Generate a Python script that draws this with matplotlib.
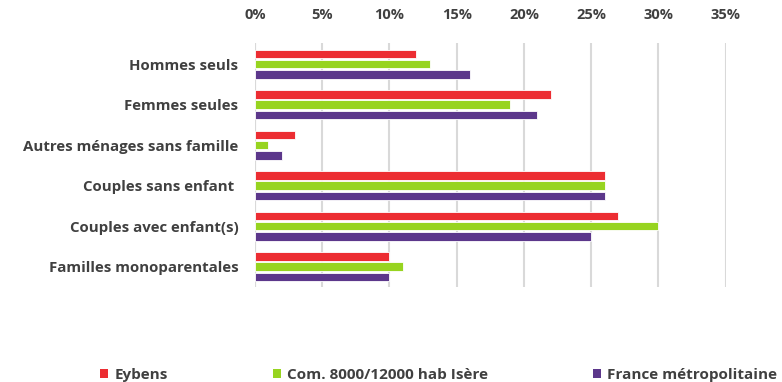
import numpy as np
import matplotlib.pyplot as plt
from matplotlib.ticker import FuncFormatter
from matplotlib.patches import Patch

categories = ["Hommes seuls", "Femmes seules", "Autres ménages sans famille",
              "Couples sans enfant ", "Couples avec enfant(s)", "Familles monoparentales"]
series = ["Eybens", "Com. 8000/12000 hab Isère", "France métropolitaine"]
eybens = [0.12, 0.22, 0.03, 0.26, 0.27, 0.10]
com_isere = [0.13, 0.19, 0.01, 0.26, 0.30, 0.11]
france = [0.16, 0.21, 0.02, 0.26, 0.25, 0.10]
colors = ["#EC2D32", "#97D420", "#5C378B"]

plt.rcParams['font.family'] = ['Open Sans', 'DejaVu Sans']
txt = "#404040"

fig = plt.figure(figsize=(7.82, 3.82), dpi=100)
ax = fig.add_axes([0.326, 0.249, 0.602, 0.638])

y = np.arange(len(categories))
step = 0.25
h = 0.21
for i, vals in enumerate([eybens, com_isere, france]):
    ax.barh(y + (i - 1) * step, vals, height=h, color=colors[i],
            edgecolor="white", linewidth=0.6, zorder=3)

ax.set_xlim(0, 0.35)
ax.set_ylim(5.5, -0.52)
ax.set_xticks(np.arange(0, 0.351, 0.05))
ax.xaxis.set_major_formatter(FuncFormatter(lambda v, p: f"{v*100:.0f}%"))
ax.xaxis.tick_top()
ax.tick_params(axis='x', length=0, pad=15, labelsize=10.5, labelcolor=txt)
ax.tick_params(axis='y', length=0, pad=12, labelsize=10.8, labelcolor=txt)
ax.set_yticks(y)
ax.set_yticklabels(categories, fontweight='bold')
for lab in ax.get_xticklabels():
    lab.set_fontweight('bold')
ax.grid(axis='x', color="#d9d9d9", linewidth=1.5, zorder=0)
for s in ax.spines.values():
    s.set_visible(False)
ax.axvline(0, color="#d9d9d9", linewidth=1.5, zorder=1)

handles = [Patch(facecolor=c) for c in colors]
fig.legend(handles, series, loc='lower center', bbox_to_anchor=(0.561, -0.035),
           ncol=3, frameon=False, handlelength=0.5, handleheight=0.5,
           handletextpad=0.4, columnspacing=6.9,
           prop={'weight': 'bold', 'size': 11}, labelcolor=txt)

fig.savefig("out.png", dpi=100)
